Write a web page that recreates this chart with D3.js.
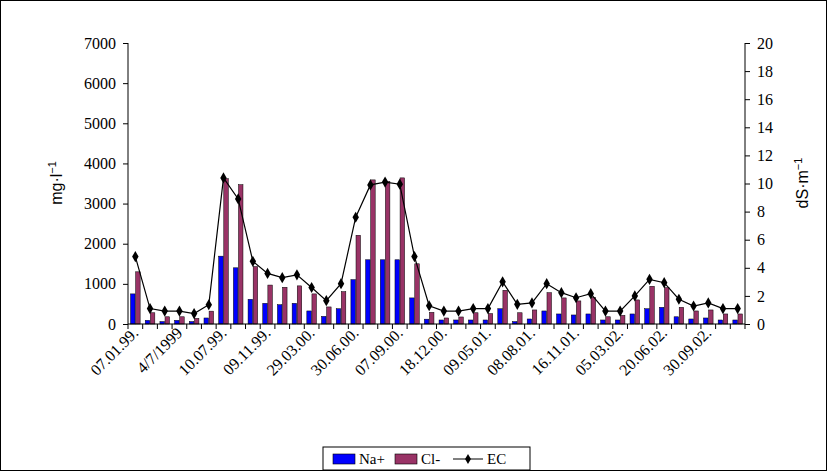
<!DOCTYPE html>
<html><head><meta charset="utf-8">
<script src="https://cdn.jsdelivr.net/npm/d3@7"></script>
<style>body{margin:0;background:#fff}</style>
</head><body>
<svg id="c" width="827" height="471"></svg>
<script>
const dates = ['07.01.99.', '', '', '4/7/1999', '', '', '10.07.99.', '', '', '09.11.99.', '', '',
  '29.03.00.', '', '', '30.06.00.', '', '', '07.09.00.', '', '', '18.12.00.', '', '',
  '09.05.01.', '', '', '08.08.01.', '', '', '16.11.01.', '', '', '05.03.02.', '', '',
  '20.06.02.', '', '', '30.09.02.', '', ''];
const na = [750, 90, 60, 90, 60, 150, 1690, 1400, 615, 515, 480, 515, 325, 190, 380, 1105, 1600, 1600, 1600, 650,
  120, 100, 100, 100, 100, 380, 60, 125, 325, 250, 225, 250, 100, 100, 250, 380, 415, 180, 125, 150, 100, 100];
const cl = [1300, 280, 180, 180, 140, 320, 3620, 3470, 1430, 970, 915, 950, 750, 425, 805, 2210, 3590, 3550, 3640, 1500,
  290, 150, 175, 280, 260, 840, 280, 350, 780, 650, 575, 665, 180, 215, 600, 940, 905, 415, 325, 350, 250, 250];
const ec = [4.8, 1.1, 0.92, 0.92, 0.74, 1.37, 10.4, 8.9, 4.46, 3.6, 3.3, 3.5, 2.6, 1.66, 2.87, 7.6, 9.9, 10.1, 9.95, 4.8,
  1.3, 0.92, 0.92, 1.1, 1.1, 3.0, 1.4, 1.5, 2.87, 2.23, 1.87, 2.16, 0.92, 0.92, 2.0, 3.18, 2.94, 1.76, 1.28, 1.5, 1.1, 1.1];

const svg = d3.select('#c');
const m = { l: 128, r: 745, t: 43, b: 324 };
const serif = 'Liberation Serif, Times New Roman, serif';
const sans = 'Liberation Sans, Arial, sans-serif';

svg.append('rect').attr('x', 0.5).attr('y', 0.5).attr('width', 826).attr('height', 470)
  .attr('fill', '#fff').attr('stroke', '#000');

const x = d3.scaleBand().domain(d3.range(dates.length)).range([m.l, m.r]);
const y = d3.scaleLinear().domain([0, 7000]).range([m.b, m.t]);
const y2 = d3.scaleLinear().domain([0, 20]).range([m.b, m.t]);
const bw = 4.5;

const g = svg.append('g');
g.selectAll('rect.na').data(na).enter().append('rect')
  .attr('x', (d, i) => x(i) + x.bandwidth() / 2 - bw - 0.3)
  .attr('y', d => y(d)).attr('width', bw).attr('height', d => m.b - y(d))
  .attr('fill', '#0000ff').attr('stroke', '#000').attr('stroke-width', 0.5);
g.selectAll('rect.cl').data(cl).enter().append('rect')
  .attr('x', (d, i) => x(i) + x.bandwidth() / 2 + 0.3)
  .attr('y', d => y(d)).attr('width', bw).attr('height', d => m.b - y(d))
  .attr('fill', '#993366').attr('stroke', '#000').attr('stroke-width', 0.5);

const cx = i => x(i) + x.bandwidth() / 2;
g.append('path').datum(ec)
  .attr('d', d3.line().x((d, i) => cx(i)).y(d => y2(d)))
  .attr('fill', 'none').attr('stroke', '#000').attr('stroke-width', 1.2);
g.selectAll('path.m').data(ec).enter().append('path')
  .attr('d', d3.symbol(d3.symbolDiamond, 36))
  .attr('transform', (d, i) => `translate(${cx(i)},${y2(d)})`);

// axes
const left = svg.append('g').attr('transform', `translate(${m.l},0)`)
  .call(d3.axisLeft(y).tickValues(d3.range(0, 7001, 1000)).tickFormat(d3.format('d')).tickSize(5).tickPadding(7));
const right = svg.append('g').attr('transform', `translate(${m.r},0)`)
  .call(d3.axisRight(y2).tickValues(d3.range(0, 21, 2)).tickSize(5).tickPadding(7));
[left, right].forEach(a => {
  a.select('.domain').attr('d', `M0,${m.t}V${m.b}`);
  a.selectAll('text').attr('font-family', serif).attr('font-size', 16).attr('fill', '#000');
});

svg.append('line').attr('x1', m.l).attr('x2', m.r).attr('y1', m.b).attr('y2', m.b).attr('stroke', '#000');
svg.selectAll('line.xt').data(d3.range(dates.length + 1)).enter().append('line')
  .attr('x1', i => m.l + i * x.step()).attr('x2', i => m.l + i * x.step())
  .attr('y1', m.b).attr('y2', m.b + 5).attr('stroke', '#000');
svg.selectAll('text.xl').data(dates).enter().append('text')
  .attr('transform', (d, i) => `translate(${cx(i) + 4},${m.b + 10}) rotate(-45)`)
  .attr('text-anchor', 'end').attr('font-family', serif).attr('font-size', 16)
  .text(d => d);

svg.append('text').attr('transform', 'translate(62,183) rotate(-90)')
  .attr('text-anchor', 'middle').attr('font-family', sans).attr('font-size', 16)
  .html('mg·l<tspan dy="-6" font-size="11">−1</tspan>');
svg.append('text').attr('transform', 'translate(808,183) rotate(-90)')
  .attr('text-anchor', 'middle').attr('font-family', sans).attr('font-size', 16)
  .html('dS·m<tspan dy="-6" font-size="11">−1</tspan>');

// legend
const lg = svg.append('g').attr('transform', 'translate(323,447)');
lg.append('rect').attr('width', 207).attr('height', 23).attr('fill', '#fff').attr('stroke', '#000');
const items = [['Na+', '#0000ff'], ['Cl-', '#993366']];
items.forEach(([t, c], i) => {
  const ox = 10 + i * 62;
  lg.append('rect').attr('x', ox).attr('y', 7).attr('width', 22).attr('height', 10)
    .attr('fill', c).attr('stroke', '#000').attr('stroke-width', 0.6);
  lg.append('text').attr('x', ox + 26).attr('y', 17).attr('font-family', serif).attr('font-size', 15).text(t);
});
lg.append('line').attr('x1', 130).attr('x2', 160).attr('y1', 12).attr('y2', 12).attr('stroke', '#000');
lg.append('path').attr('d', d3.symbol(d3.symbolDiamond, 30)).attr('transform', 'translate(145,12)');
lg.append('text').attr('x', 164).attr('y', 17).attr('font-family', serif).attr('font-size', 15).text('EC');
</script>
</body></html>
